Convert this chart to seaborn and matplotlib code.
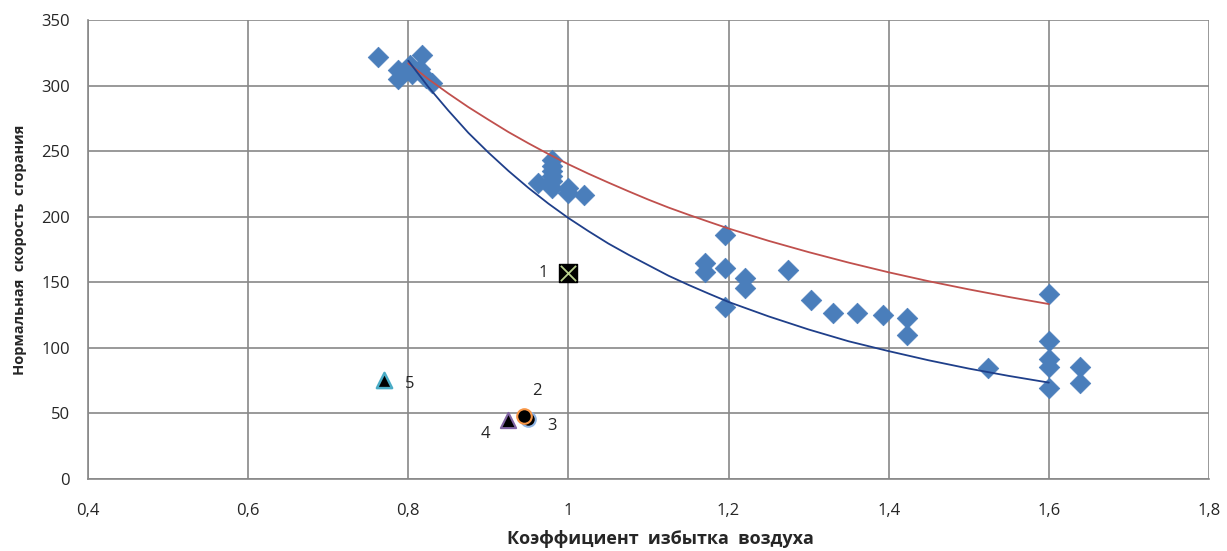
import pandas as pd
import seaborn as sns
import matplotlib.pyplot as plt

# experimental points (diamonds)
alpha_exp = [0.7625, 0.7875, 0.7875, 0.795, 0.8025, 0.805, 0.815, 0.8175, 0.8225, 0.83,
             0.98, 0.98, 0.98, 0.98, 0.98, 0.9625, 0.98, 1.0, 1.0, 1.02,
             1.196, 1.171, 1.171, 1.196, 1.221, 1.221, 1.274, 1.196, 1.3025, 1.33,
             1.361, 1.3925, 1.4225, 1.4225,
             1.6, 1.6, 1.6, 1.6, 1.6, 1.524, 1.639, 1.639]
speed_exp = [321.8, 311.9, 305.0, 310.0, 316.0, 309.0, 313.0, 323.0, 306.0, 302.0,
             243.0, 239.0, 235.0, 231.0, 227.0, 226.0, 222.0, 222.0, 218.0, 216.5,
             186.0, 164.7, 158.0, 161.0, 153.0, 145.6, 159.0, 131.0, 136.5, 126.6,
             126.6, 125.0, 122.8, 109.8,
             141.0, 105.0, 91.5, 85.4, 69.4, 84.6, 85.4, 73.0]

# trend lines
alpha_curve = [0.80, 0.825, 0.85, 0.875, 0.90, 0.925, 0.95, 0.975, 1.00, 1.025, 1.05,
               1.075, 1.10, 1.125, 1.15, 1.175, 1.20, 1.25, 1.30, 1.35, 1.40, 1.45,
               1.50, 1.55, 1.60]
blue_curve = [319, 299, 281, 264, 249, 235, 222, 210, 199, 189, 179.5,
              171, 163, 155, 148, 141.4, 135, 124, 114, 105, 97.5, 90.5,
              84.2, 78.6, 73.5]
red_curve = [317, 305, 294, 283.6, 274, 264.6, 256, 247.8, 240, 232.8, 226,
             219.4, 213, 207, 201.5, 196.2, 191, 181.6, 173, 165, 157.6, 150.8,
             144.6, 138.8, 133.4]

# numbered single points
num_labels = ['1', '2', '3', '4', '5']
num_alpha = [1.0, 0.944, 0.95, 0.925, 0.77]
num_speed = [157.0, 48.0, 45.7, 45.0, 75.5]

sns.set_style('white')
plt.rcParams['font.family'] = ['Open Sans', 'DejaVu Sans']

fig = plt.figure(figsize=(12.27, 5.51), dpi=100)
ax = fig.add_axes([0.0717, 0.1307, 0.9136, 0.833])

df_exp = pd.DataFrame({'alpha': alpha_exp, 'speed': speed_exp})
df_curve = pd.DataFrame({'alpha': alpha_curve, 'blue': blue_curve, 'red': red_curve})

sns.lineplot(data=df_curve, x='alpha', y='red', ax=ax, color='#c0504d', lw=1.3,
             estimator=None, sort=False, zorder=3)
sns.lineplot(data=df_curve, x='alpha', y='blue', ax=ax, color='#1f3f8a', lw=1.3,
             estimator=None, sort=False, zorder=3)
sns.scatterplot(data=df_exp, x='alpha', y='speed', ax=ax, marker='D', s=110,
                color='#4a7ebb', edgecolor='#4a7ebb', linewidth=0.5, zorder=2)

# point 1: black square with light green cross
ax.scatter([num_alpha[0]], [num_speed[0]], marker='s', s=170, color='black', zorder=4)
ax.scatter([num_alpha[0]], [num_speed[0]], marker='x', s=120, color='#b8d08c',
           linewidths=1.3, zorder=5)
# points 2, 3: black circles
ax.scatter([num_alpha[2]], [num_speed[2]], marker='o', s=110, color='black',
           edgecolor='#8fb4e3', linewidth=1.5, zorder=4)
ax.scatter([num_alpha[1]], [num_speed[1]], marker='o', s=110, color='black',
           edgecolor='#f79646', linewidth=1.5, zorder=5)
# points 4, 5: black triangles
ax.scatter([num_alpha[3]], [num_speed[3]], marker='^', s=120, color='black',
           edgecolor='#8064a2', linewidth=1.5, zorder=4)
ax.scatter([num_alpha[4]], [num_speed[4]], marker='^', s=120, color='black',
           edgecolor='#4bacc6', linewidth=1.8, zorder=4)

label_offsets = [(-0.032, 0.0), (0.017, 19.0), (0.03, -5.0), (-0.028, -11.0), (0.032, -3.0)]
for lab, xv, yv, (dx, dy) in zip(num_labels, num_alpha, num_speed, label_offsets):
    ax.text(xv + dx, yv + dy, lab, fontsize=12, ha='center', va='center')

ax.set_xlim(0.4, 1.8)
ax.set_ylim(0, 350)
ax.set_xticks([0.4, 0.6, 0.8, 1.0, 1.2, 1.4, 1.6, 1.8])
ax.set_xticklabels(['0,4', '0,6', '0,8', '1', '1,2', '1,4', '1,6', '1,8'])
ax.set_yticks(range(0, 351, 50))
ax.grid(True, color='#888888', lw=1.2)
ax.set_axisbelow(True)
for side in ['top', 'right']:
    ax.spines[side].set_visible(False)
for side in ['left', 'bottom']:
    ax.spines[side].set_color('#888888')
    ax.spines[side].set_linewidth(1.2)
ax.tick_params(axis='both', direction='out', length=5, width=1.2, color='#888888',
               labelsize=12)
ax.tick_params(axis='y', pad=8)
ax.tick_params(axis='x', pad=12)
ax.set_xlabel('Коэффициент  избытка  воздуха', fontsize=13, fontweight='bold')
ax.xaxis.set_label_coords(0.511, -0.112)
ax.set_ylabel('Нормальная  скорость  сгорания', fontsize=10.5, fontweight='bold', labelpad=10)

fig.savefig('out.png', dpi=100)
